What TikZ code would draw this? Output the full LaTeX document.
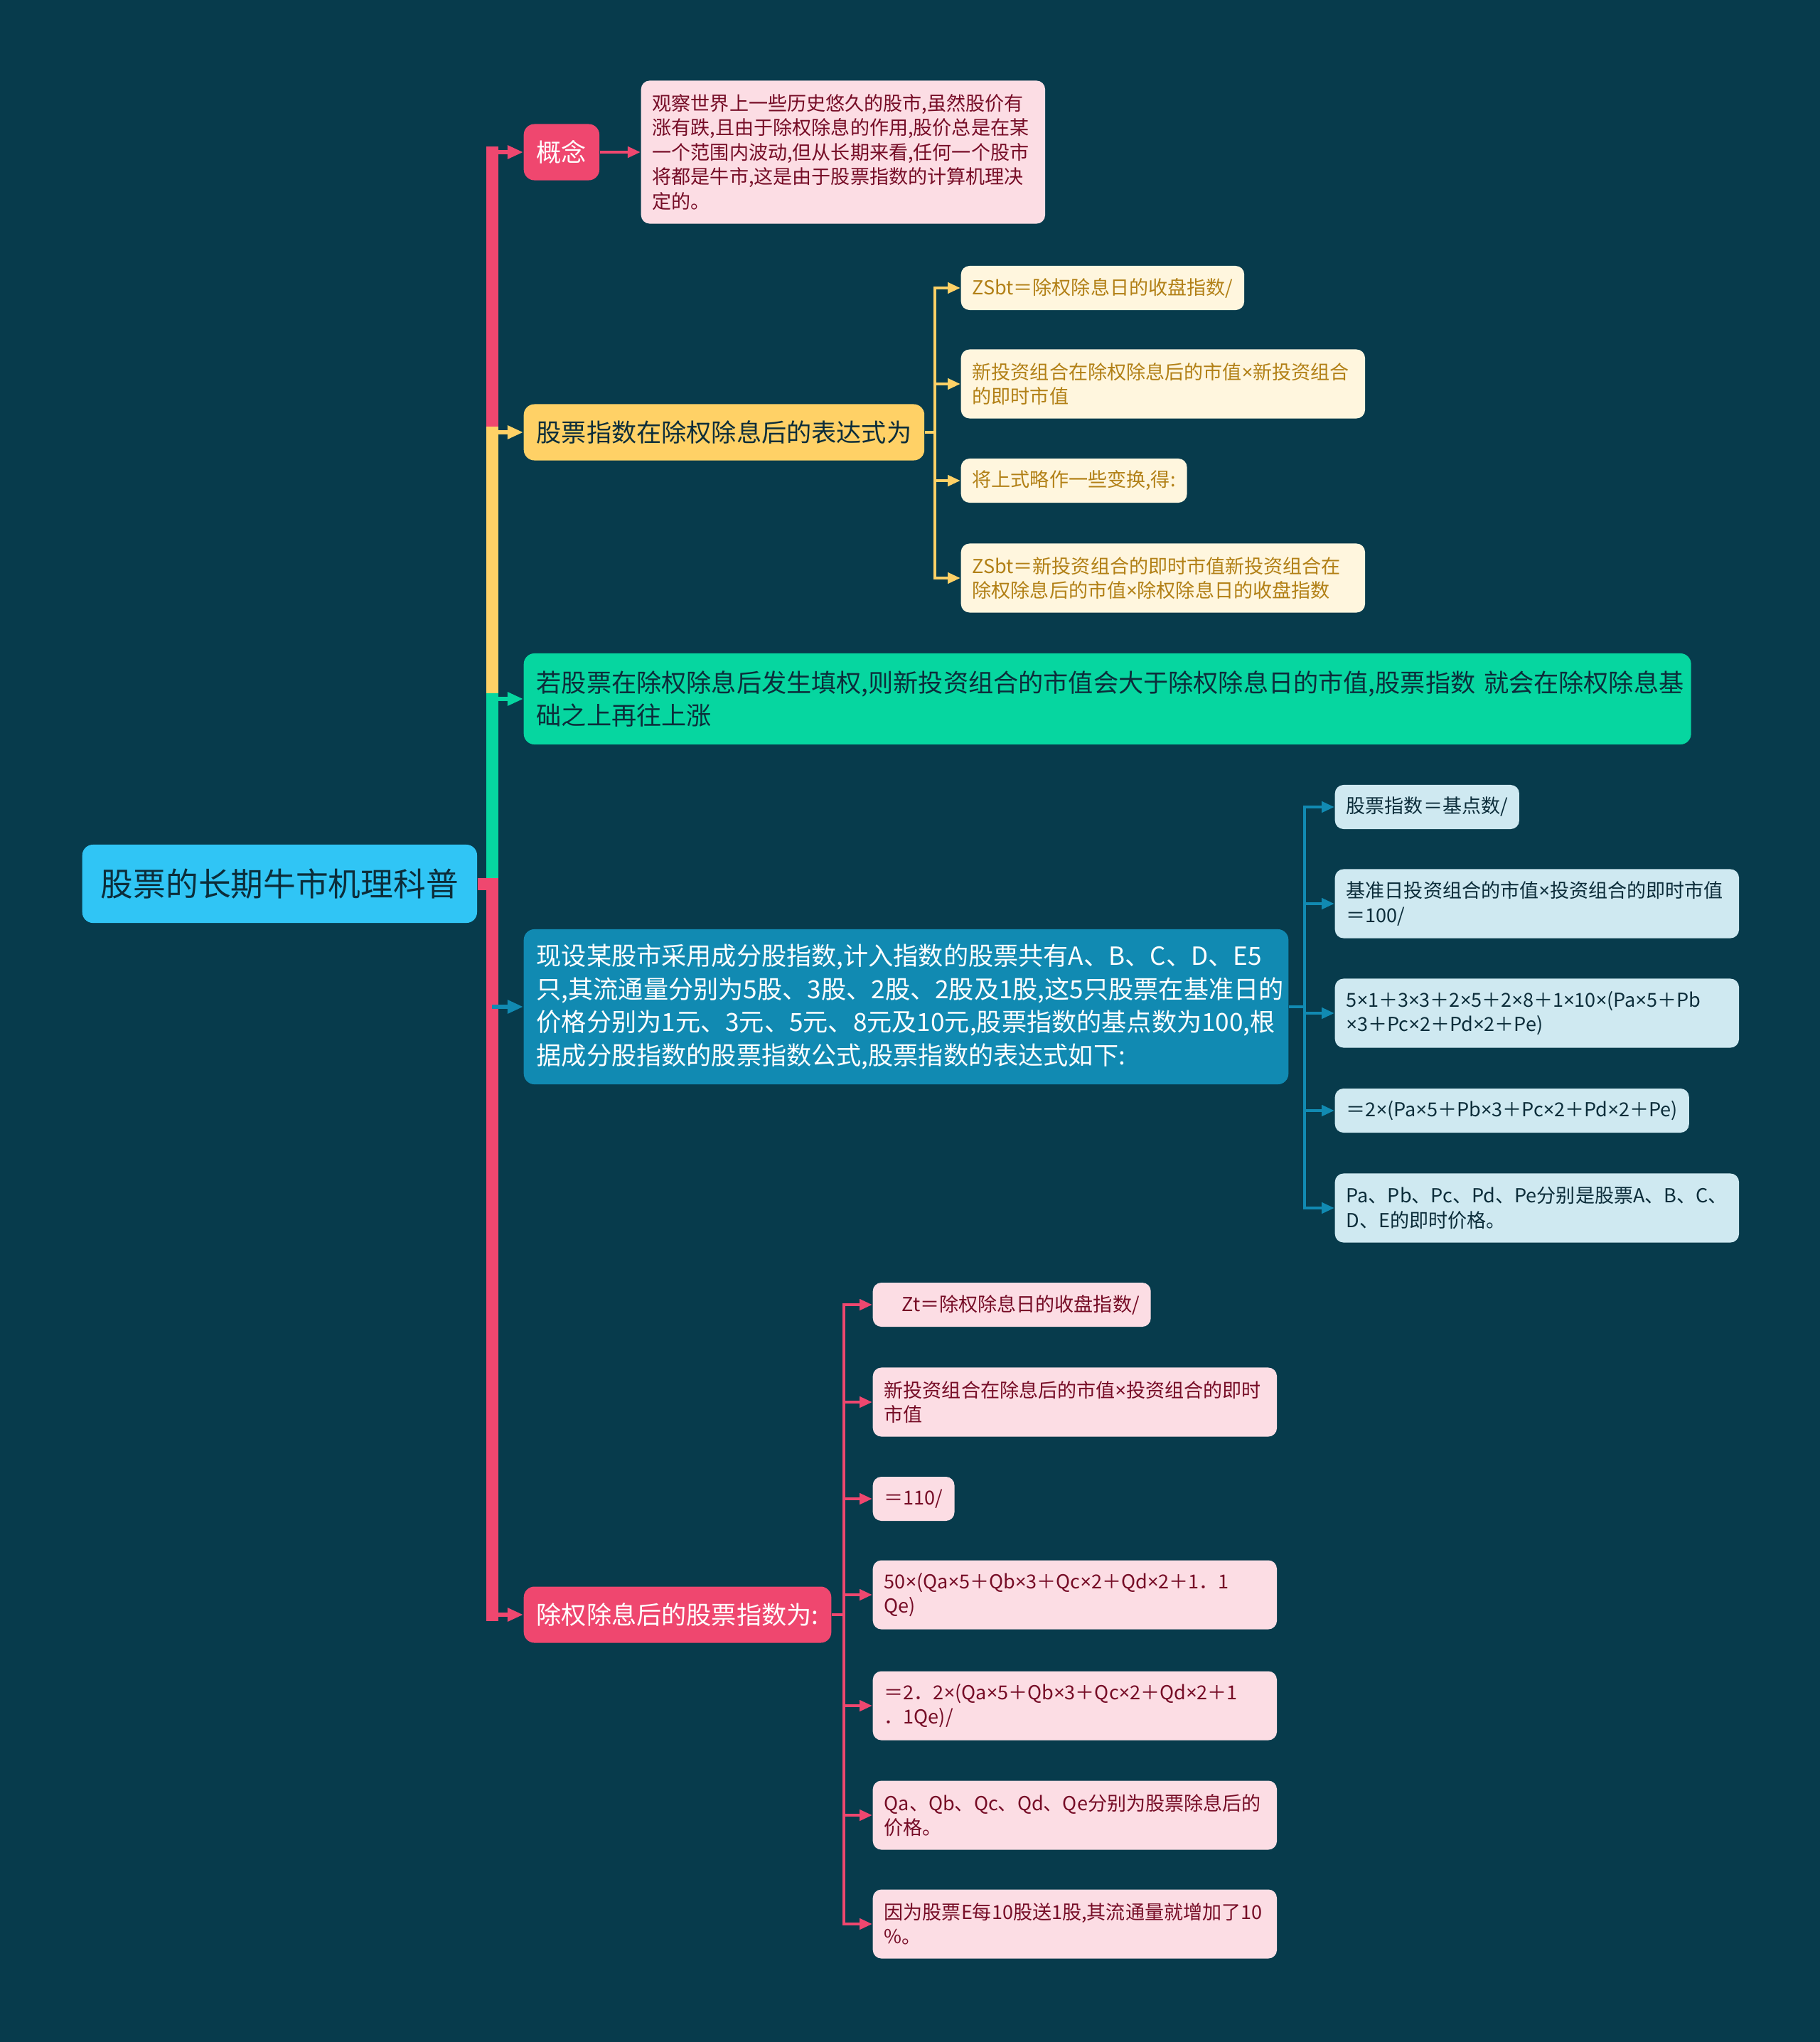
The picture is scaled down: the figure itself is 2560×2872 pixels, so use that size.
\documentclass[tikz,border=0pt]{standalone}
\usepackage{fontspec}
\setmainfont{Noto Sans CJK SC}
\newfontfamily\latinfont{Noto Sans}
\usetikzlibrary{arrows.meta}
\definecolor{bgc}{RGB}{7,59,76}
\definecolor{rootc}{RGB}{48,197,245}
\definecolor{pinkc}{RGB}{239,71,111}
\definecolor{yellowc}{RGB}{255,209,102}
\definecolor{greenc}{RGB}{6,214,160}
\definecolor{bluec}{RGB}{17,138,178}
\definecolor{pinkleaf}{RGB}{252,221,228}
\definecolor{yellowleaf}{RGB}{255,246,222}
\definecolor{blueleaf}{RGB}{207,233,241}
\definecolor{darkc}{RGB}{12,45,58}
\definecolor{winec}{RGB}{118,12,38}
\definecolor{goldc}{RGB}{178,128,22}
\newcommand{\rootsize}{\fontsize{13}{16}\selectfont}
\newcommand{\topicsize}{\fontsize{10}{13.2}\selectfont}
\newcommand{\leafsize}{\fontsize{7.7}{9.8}\selectfont}
\newcommand{\tms}{{\latinfont ×}}
\tikzset{
  box/.style={rounded corners=1.5mm, align=left, inner ysep=1mm},
  topic/.style={box, inner xsep=1.8mm, font=\topicsize, minimum height=7.9mm, anchor=west},
  leaf/.style={box, rounded corners=1.2mm, inner xsep=1.6mm, font=\leafsize, minimum height=6.2mm, anchor=west},
  wide/.style={text width=5.36cm, minimum height=9.7mm},
  pinkleafbox/.style={leaf, fill=pinkleaf, text=winec},
  yellowleafbox/.style={leaf, fill=yellowleaf, text=goldc},
  blueleafbox/.style={leaf, fill=blueleaf, text=darkc},
  stem/.style={draw=#1, line width=1.7mm, line cap=rect},
  branch/.style={draw=#1, line width=0.6mm, -{Triangle[length=2.2mm,width=1.8mm]}},
  twig/.style={draw=#1, line width=0.45mm, -{Triangle[length=1.8mm,width=1.5mm]}}
}
\begin{document}
\begin{tikzpicture}[x=0.01cm, y=-0.01cm]
  \useasboundingbox (0,0) rectangle (2560,2872);
  \fill[bgc] (0,0) rectangle (2560,2872);

  \node[box, fill=rootc, text=darkc, font=\rootsize, align=center, minimum width=5.55cm, minimum height=11mm, anchor=west] (root) at (115,1243) {股票的长期牛市机理科普};

  % first level
  \node[topic, fill=pinkc, text=white] (concept) at (736,214) {概念};
  \node[topic, fill=yellowc, text=darkc] (expr) at (736,608) {股票指数在除权除息后的表达式为};
  \node[topic, fill=greenc, text=darkc, text width=16.05cm, minimum height=12.8mm] (rise) at (736,983) {若股票在除权除息后发生填权,则新投资组合的市值会大于除权除息日的市值,股票指数~就会在除权除息基\\础之上再往上涨};
  \node[topic, fill=bluec, text=white, text width=10.39cm, minimum height=21.8mm] (model) at (736,1416) {现设某股市采用成分股指数,计入指数的股票共有A、B、C、D、E5\\只,其流通量分别为5股、3股、2股、2股及1股,这5只股票在基准日的\\价格分别为1元、3元、5元、8元及10元,股票指数的基点数为100,根\\据成分股指数的股票指数公式,股票指数的表达式如下:};
  \node[topic, fill=pinkc, text=white] (after) at (736,2271) {除权除息后的股票指数为:};

  % second level
  \node[pinkleafbox, wide, minimum height=20.1mm] (cdesc) at (901,214) {观察世界上一些历史悠久的股市,虽然股价有\\涨有跌,且由于除权除息的作用,股价总是在某\\一个范围内波动,但从长期来看,任何一个股市\\将都是牛市,这是由于股票指数的计算机理决\\定的。};

  \node[yellowleafbox] (e1) at (1351,405) {ZSbt＝除权除息日的收盘指数/};
  \node[yellowleafbox, wide] (e2) at (1351,540) {新投资组合在除权除息后的市值\tms 新投资组合\\的即时市值};
  \node[yellowleafbox] (e3) at (1351,676) {将上式略作一些变换,得:};
  \node[yellowleafbox, wide] (e4) at (1351,813) {ZSbt＝新投资组合的即时市值新投资组合在\\除权除息后的市值\tms 除权除息日的收盘指数};

  \node[blueleafbox] (m1) at (1877,1135) {股票指数＝基点数/};
  \node[blueleafbox, wide] (m2) at (1877,1271) {基准日投资组合的市值\tms 投资组合的即时市值\\＝100/};
  \node[blueleafbox, wide] (m3) at (1877,1425) {5\tms 1＋3\tms 3＋2\tms 5＋2\tms 8＋1\tms 10\tms(Pa\tms 5＋Pb\\\tms 3＋Pc\tms 2＋Pd\tms 2＋Pe)};
  \node[blueleafbox] (m4) at (1877,1562) {＝2\tms(Pa\tms 5＋Pb\tms 3＋Pc\tms 2＋Pd\tms 2＋Pe)};
  \node[blueleafbox, wide] (m5) at (1877,1699) {Pa、Pb、Pc、Pd、Pe分别是股票A、B、C、\\D、E的即时价格。};

  \node[pinkleafbox] (a1) at (1227,1835) {\hspace*{0.9em}Zt＝除权除息日的收盘指数/};
  \node[pinkleafbox, wide] (a2) at (1227,1972) {新投资组合在除息后的市值\tms 投资组合的即时\\市值};
  \node[pinkleafbox] (a3) at (1227,2108) {＝110/};
  \node[pinkleafbox, wide] (a4) at (1227,2243) {50\tms(Qa\tms 5＋Qb\tms 3＋Qc\tms 2＋Qd\tms 2＋1．1\\Qe)};
  \node[pinkleafbox, wide] (a5) at (1227,2399) {＝2．2\tms(Qa\tms 5＋Qb\tms 3＋Qc\tms 2＋Qd\tms 2＋1\\．1Qe)/};
  \node[pinkleafbox, wide] (a6) at (1227,2553) {Qa、Qb、Qc、Qd、Qe分别为股票除息后的\\价格。};
  \node[pinkleafbox, wide] (a7) at (1227,2706) {因为股票E每10股送1股,其流通量就增加了10\\\%。};

  % trunk, far branches first so the near ones lie on top
  \coordinate (hub) at (692,1243);
  \draw[stem=pinkc] (hub) -- (hub |- concept.west);
  \draw[stem=yellowc] (hub) -- (hub |- expr.west);
  \draw[stem=greenc] (hub) -- (hub |- rise.west);
  \draw[stem=bluec] (hub) -- (hub |- model.west);
  \draw[stem=pinkc] (hub) -- (hub |- after.west);
  \draw[stem=pinkc, line cap=butt] (root.east) -- (hub);

  \draw[branch=pinkc] (hub |- concept.west) -- (concept.west);
  \draw[branch=yellowc] (hub |- expr.west) -- (expr.west);
  \draw[branch=greenc] (hub |- rise.west) -- (rise.west);
  \draw[branch=bluec] (hub |- model.west) -- (model.west);
  \draw[branch=pinkc] (hub |- after.west) -- (after.west);

  % leaves
  \draw[twig=pinkc] (concept.east) -- (cdesc.west);

  \coordinate (ebar) at (1315,608);
  \draw[twig=yellowc, -] (expr.east) -- (ebar);
  \foreach \n in {e1,e2,e3,e4}
    \draw[twig=yellowc] (ebar) |- (\n.west);

  \coordinate (mbar) at (1835,1416);
  \draw[twig=bluec, -] (model.east) -- (mbar);
  \foreach \n in {m1,m2,m3,m4,m5}
    \draw[twig=bluec] (mbar) |- (\n.west);

  \coordinate (abar) at (1187,2271);
  \draw[twig=pinkc, -] (after.east) -- (abar);
  \foreach \n in {a1,a2,a3,a4,a5,a6,a7}
    \draw[twig=pinkc] (abar) |- (\n.west);
\end{tikzpicture}
\end{document}
